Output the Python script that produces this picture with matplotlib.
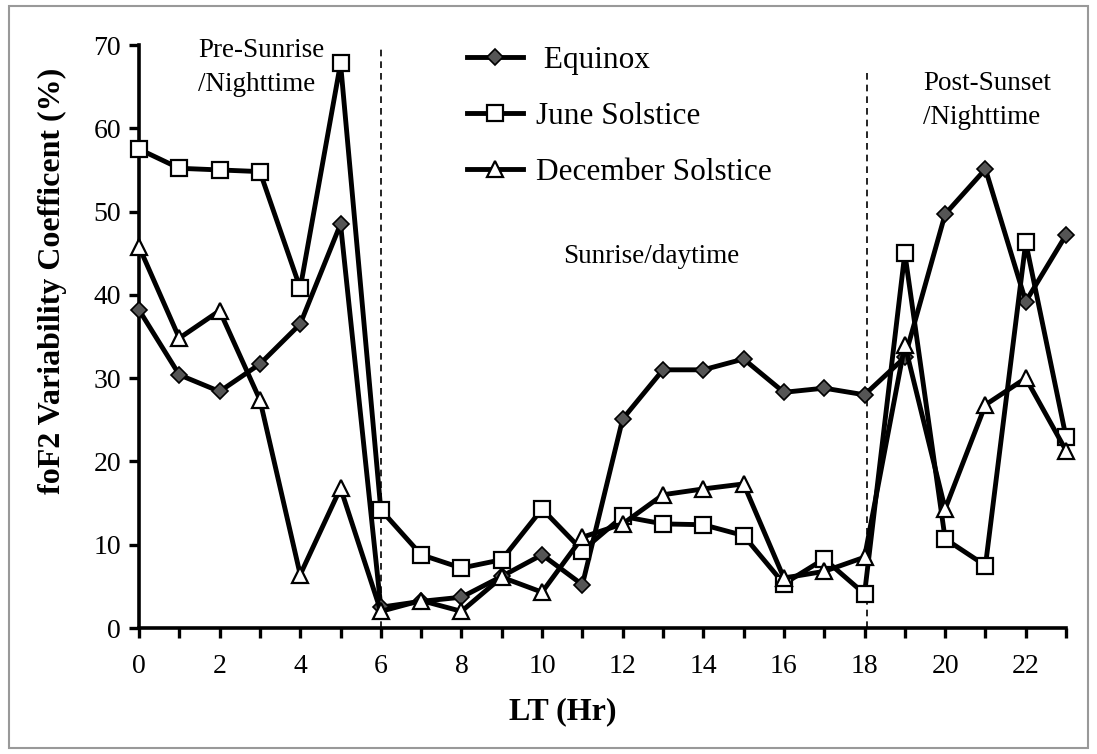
import matplotlib
matplotlib.use("Agg")
import matplotlib.pyplot as plt
from matplotlib.patches import Rectangle

hours = list(range(24))
equinox = [38.2, 30.4, 28.4, 31.7, 36.5, 48.5, 2.5, 3.2, 3.7, 6.2, 8.8, 5.2,
           25.1, 31.0, 31.0, 32.3, 28.3, 28.8, 28.0, 32.5, 49.7, 55.1, 39.2, 47.2]
june = [57.5, 55.2, 55.0, 54.8, 40.8, 67.8, 14.2, 8.8, 7.2, 8.2, 14.3, 9.3,
        13.4, 12.5, 12.4, 11.1, 5.3, 8.3, 4.1, 45.0, 10.7, 7.5, 46.3, 22.9]
december = [45.8, 34.8, 38.1, 27.4, 6.4, 16.8, 2.0, 3.3, 2.0, 6.1, 4.3, 10.9,
            12.5, 16.0, 16.7, 17.3, 6.0, 6.8, 8.5, 34.0, 14.3, 26.8, 30.0, 21.3]
labels = ["Equinox", "June Solstice", "December Solstice"]
xticks = list(range(0, 24))
xticklabels = [str(h) if h % 2 == 0 else "" for h in xticks]
yticks = list(range(0, 71, 10))

plt.rcParams['font.family'] = ['Liberation Serif', 'DejaVu Serif']

fig = plt.figure(figsize=(10.97, 7.54), dpi=100)
fig.patches.append(Rectangle((0.008, 0.008), 0.984, 0.984, transform=fig.transFigure,
                             fill=False, edgecolor='#999999', linewidth=1.5))
ax = fig.add_axes([0.1267, 0.1671, 0.8451, 0.7732])

lw = 3.5
ax.plot(hours, equinox, color='black', lw=lw, marker='D', ms=8.5, mfc='#555555',
        mec='black', mew=1.2, label=" " + labels[0], zorder=3)
ax.plot(hours, june, color='black', lw=lw, marker='s', ms=11, mfc='white',
        mec='black', mew=1.6, label=labels[1], zorder=3)
ax.plot(hours, december, color='black', lw=lw, marker='^', ms=12, mfc='white',
        mec='black', mew=1.6, label=labels[2], zorder=4)

ax.axvline(6, ymin=0, ymax=1, color='black', lw=1.2, ls=(0, (4, 3)), zorder=2)
ax.axvline(18.05, ymin=0, ymax=67 / 70, color='black', lw=1.2, ls=(0, (4, 3)), zorder=2)

ax.set_xlim(0, 23)
ax.set_ylim(0, 70)
ax.set_xticks(xticks)
ax.set_xticklabels(xticklabels)
ax.set_yticks(yticks)
ax.tick_params(direction='out', length=7, width=2.4, labelsize=20)
ax.tick_params(axis='x', pad=12)
ax.tick_params(axis='y', pad=6)
for s in ['top', 'right']:
    ax.spines[s].set_visible(False)
for s in ['left', 'bottom']:
    ax.spines[s].set_linewidth(2.6)
for line in ax.lines:
    line.set_clip_on(False)

ax.set_xlabel("LT (Hr)", fontsize=23, fontweight='bold', va='center')
ax.xaxis.set_label_coords(0.457, -0.144)
ax.set_ylabel("foF2 Variability Coefficent (%)", fontsize=23, fontweight='bold', va='center')
ax.yaxis.set_label_coords(-0.093, 0.595)

ax.text(1.46, 70.9, "Pre-Sunrise\n/Nighttime", fontsize=19.5, va='top', ha='left', linespacing=1.5)
ax.text(12.7, 44.6, "Sunrise/daytime", fontsize=19.5, va='center', ha='center')
ax.text(19.45, 66.9, "Post-Sunset\n/Nighttime", fontsize=19.5, va='top', ha='left', linespacing=1.5)

leg = ax.legend(loc='upper left', bbox_to_anchor=(0.354, 0.998), frameon=False,
                fontsize=22.5, handlelength=1.8, labelspacing=0.86, handletextpad=0.4,
                borderaxespad=0, borderpad=0)

fig.savefig("out.png", dpi=100)
